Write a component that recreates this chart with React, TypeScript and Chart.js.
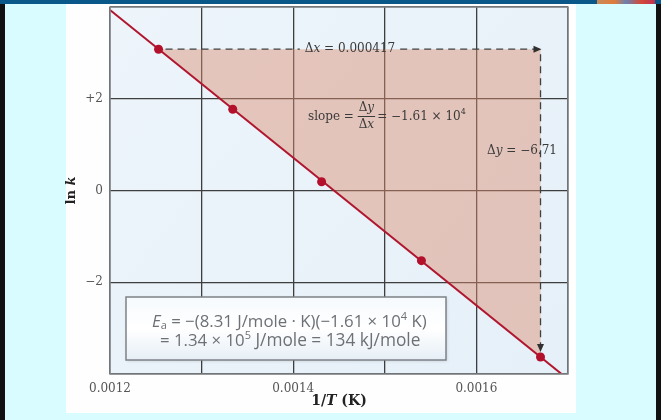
import { useEffect, useRef } from "react";
import { Chart, registerables } from "chart.js";

Chart.register(...registerables);

// ---- data ----
const invT = [0.001253, 0.001334, 0.001431, 0.00154, 0.00167];
const lnK = [3.08, 1.77, 0.19, -1.53, -3.63];
const xRange = [0.0012, 0.0017];
const yRange = [-4, 4];
const xTickValues = [0.0012, 0.0014, 0.0016];
const xTickLabels = ["0.0012", "0.0014", "0.0016"];
const yTickValues = [2, 0, -2];
const yTickLabels = ["+2", "0", "\u22122"];
const deltaXText = "0.000417";
const deltaYText = "\u22126.71";
const slopeText = "\u22121.61";

const SERIF = "'DejaVu Serif', 'Liberation Serif', serif";
const SANS = "'Open Sans', 'Noto Sans', sans-serif";

type Seg = { t: string; font: string; dy?: number };

function richWidth(ctx: CanvasRenderingContext2D, segs: Seg[]) {
  let w = 0;
  for (const s of segs) {
    ctx.font = s.font;
    w += ctx.measureText(s.t).width;
  }
  return w;
}

function drawRich(ctx: CanvasRenderingContext2D, x: number, y: number, segs: Seg[], align: "left" | "center" = "left") {
  let cx = x;
  if (align === "center") cx = x - richWidth(ctx, segs) / 2;
  ctx.textAlign = "left";
  ctx.textBaseline = "middle";
  for (const s of segs) {
    ctx.font = s.font;
    ctx.fillText(s.t, cx, y + (s.dy || 0));
    cx += ctx.measureText(s.t).width;
  }
  return cx;
}

function arrowHead(ctx: CanvasRenderingContext2D, tx: number, ty: number, dx: number, dy: number) {
  const L = 8, W = 3.5;
  const bx = tx - dx * L, by = ty - dy * L;
  const px = -dy, py = dx;
  ctx.beginPath();
  ctx.moveTo(tx, ty);
  ctx.lineTo(bx + px * W, by + py * W);
  ctx.lineTo(bx - px * W, by - py * W);
  ctx.closePath();
  ctx.fill();
}

const backgroundPlugin = {
  id: "bgPlugin",
  beforeDraw(chart: any) {
    const ctx: CanvasRenderingContext2D = chart.ctx;
    const W = chart.width, H = chart.height;
    ctx.save();
    ctx.fillStyle = "#d8fcff";
    ctx.fillRect(0, 0, W, H);
    ctx.fillStyle = "#111111";
    ctx.fillRect(0, 0, 5, H);
    ctx.fillRect(W - 5, 0, 5, H);
    ctx.fillStyle = "#0a578a";
    ctx.fillRect(0, 0, W, 4);
    const g = ctx.createLinearGradient(597, 0, 655, 0);
    g.addColorStop(0, "#c98a5a");
    g.addColorStop(0.3, "#e07a3a");
    g.addColorStop(0.5, "#6a7fb0");
    g.addColorStop(0.75, "#d24a3a");
    g.addColorStop(1, "#c03050");
    ctx.fillStyle = g;
    ctx.fillRect(597, 0, 58, 4);
    ctx.fillStyle = "#fefefe";
    ctx.fillRect(66, 4, 510, 409);
    const a = chart.chartArea;
    const pg = ctx.createLinearGradient(a.left, a.top, a.right, a.bottom);
    pg.addColorStop(0, "#edf5fb");
    pg.addColorStop(1, "#e6f0f8");
    ctx.fillStyle = pg;
    ctx.fillRect(a.left, a.top, a.right - a.left, a.bottom - a.top);
    ctx.restore();
  },
  afterDatasetsDraw(chart: any) {
    const ctx: CanvasRenderingContext2D = chart.ctx;
    const a = chart.chartArea;
    const xs = chart.scales.x, ys = chart.scales.y;
    ctx.save();
    ctx.strokeStyle = "#85898d";
    ctx.lineWidth = 1.5;
    ctx.strokeRect(a.left, a.top, a.right - a.left, a.bottom - a.top);

    const n = invT.length - 1;
    const px1 = xs.getPixelForValue(invT[0]);
    const py1 = ys.getPixelForValue(lnK[0]);
    const px5 = xs.getPixelForValue(invT[n]);
    const py5 = ys.getPixelForValue(lnK[n]);

    const textColor = "#3a3a3a";
    const f12 = `12px ${SERIF}`;
    const f12i = `italic 12px ${SERIF}`;

    const dxSegs: Seg[] = [
      { t: "\u0394", font: f12 },
      { t: "x", font: f12i },
      { t: " = " + deltaXText, font: f12 },
    ];
    const dxW = richWidth(ctx, dxSegs);
    const dxCenter = 350;
    const tl = dxCenter - dxW / 2 - 5, tr = dxCenter + dxW / 2 + 5;

    ctx.strokeStyle = "#404040";
    ctx.fillStyle = "#303030";
    ctx.lineWidth = 1.3;
    ctx.setLineDash([7, 5]);
    ctx.beginPath();
    ctx.moveTo(px1 + 7, py1);
    ctx.lineTo(tl, py1);
    ctx.moveTo(tr, py1);
    ctx.lineTo(px5 - 6, py1);
    ctx.moveTo(px5, py1 + 5);
    ctx.lineTo(px5, py5 - 12);
    ctx.stroke();
    ctx.setLineDash([]);
    arrowHead(ctx, px5 + 1, py1, 1, 0);
    arrowHead(ctx, px5, py5 - 5, 0, 1);

    ctx.fillStyle = textColor;
    drawRich(ctx, dxCenter, py1, dxSegs, "center");

    const sy = 117;
    let cx = drawRich(ctx, 308, sy, [{ t: "slope = ", font: f12 }]);
    const numSegs: Seg[] = [{ t: "\u0394", font: f12 }, { t: "y", font: f12i }];
    const denSegs: Seg[] = [{ t: "\u0394", font: f12 }, { t: "x", font: f12i }];
    const fw = Math.max(richWidth(ctx, numSegs), richWidth(ctx, denSegs)) + 2;
    const fcx = cx + fw / 2;
    drawRich(ctx, fcx, sy - 9, numSegs, "center");
    drawRich(ctx, fcx, sy + 8, denSegs, "center");
    ctx.strokeStyle = textColor;
    ctx.lineWidth = 1;
    ctx.beginPath();
    ctx.moveTo(cx, sy - 0.5);
    ctx.lineTo(cx + fw, sy - 0.5);
    ctx.stroke();
    cx += fw + 2;
    drawRich(ctx, cx, sy, [
      { t: "= " + slopeText + " \u00d7 10", font: f12 },
      { t: "4", font: `8px ${SERIF}`, dy: -5 },
    ]);

    drawRich(ctx, 487, 151, [
      { t: "\u0394", font: f12 },
      { t: "y", font: f12i },
      { t: " = " + deltaYText, font: f12 },
    ]);

    // Ea box
    const bx = 126, by = 297, bw = 320, bh = 63;
    ctx.shadowColor = "rgba(0,0,0,0.15)";
    ctx.shadowBlur = 3;
    ctx.shadowOffsetX = 1;
    ctx.shadowOffsetY = 1;
    const bg = ctx.createLinearGradient(bx, by, bx, by + bh);
    bg.addColorStop(0, "#f6fafd");
    bg.addColorStop(0.5, "#ffffff");
    bg.addColorStop(1, "#e6eff6");
    ctx.fillStyle = bg;
    ctx.fillRect(bx, by, bw, bh);
    ctx.shadowColor = "transparent";
    ctx.strokeStyle = "#7d8287";
    ctx.lineWidth = 1.5;
    ctx.strokeRect(bx, by, bw, bh);

    ctx.fillStyle = "#6d7175";
    const fs = 16.8;
    const fMain = `${fs}px ${SANS}`;
    const fSmall = `11px ${SANS}`;
    drawRich(ctx, 152, 322, [
      { t: "E", font: `italic ${fs}px ${SANS}` },
      { t: "a", font: fSmall, dy: 4 },
      { t: " = \u2212(8.31 J/mole \u00b7 K)(\u22121.61 \u00d7 10", font: fMain },
      { t: "4", font: fSmall, dy: -5 },
      { t: " K)", font: fMain },
    ]);
    drawRich(ctx, 160, 341, [
      { t: "= 1.34 \u00d7 10", font: fMain },
      { t: "5", font: fSmall, dy: -5 },
      { t: " J/mole = 134 kJ/mole", font: `17.3px ${SANS}` },
    ]);

    ctx.fillStyle = "#222222";
    drawRich(ctx, (a.left + a.right) / 2, 401, [
      { t: "1/", font: `bold 14px ${SERIF}` },
      { t: "T", font: `bold italic 14px ${SERIF}` },
      { t: " (K)", font: `bold 14px ${SERIF}` },
    ], "center");
    ctx.save();
    ctx.translate(72, (a.top + a.bottom) / 2);
    ctx.rotate(-Math.PI / 2);
    drawRich(ctx, 0, 0, [
      { t: "ln ", font: `bold 13px ${SERIF}` },
      { t: "k", font: `bold italic 13px ${SERIF}` },
    ], "center");
    ctx.restore();

    ctx.restore();
  },
};

export default function App() {
  const ref = useRef<HTMLCanvasElement | null>(null);
  useEffect(() => {
    if (!ref.current) return;
    const n = invT.length - 1;
    const slope = (lnK[n] - lnK[0]) / (invT[n] - invT[0]);
    const fitLine = xRange.map((x) => ({ x, y: lnK[0] + slope * (x - invT[0]) }));
    const points = invT.map((x, i) => ({ x, y: lnK[i] }));
    const triangle = [
      { x: invT[0], y: lnK[0] },
      { x: invT[n], y: lnK[0] },
      { x: invT[n], y: lnK[n] },
      { x: invT[0], y: lnK[0] },
    ];
    const chart = new Chart(ref.current, {
      type: "line",
      data: {
        datasets: [
          {
            data: points,
            showLine: false,
            pointRadius: 4.5,
            pointBackgroundColor: "#b3102c",
            pointBorderWidth: 0,
          },
          {
            data: fitLine,
            borderColor: "#b0162e",
            borderWidth: 2,
            pointRadius: 0,
            fill: false,
          },
          {
            data: triangle,
            borderWidth: 0,
            pointRadius: 0,
            backgroundColor: "rgba(220,140,110,0.45)",
            fill: "shape",
          } as any,
        ],
      },
      options: {
        responsive: false,
        animation: false,
        devicePixelRatio: 1,
        layout: { padding: { left: 0, top: 7, right: 93, bottom: 0 } },
        plugins: { legend: { display: false }, tooltip: { enabled: false } },
        scales: {
          x: {
            type: "linear",
            min: xRange[0],
            max: xRange[1],
            afterFit: (s: any) => {
              s.height = 46;
              s.paddingLeft = 0;
              s.paddingRight = 0;
            },
            ticks: {
              stepSize: 0.0001,
              autoSkip: false,
              maxRotation: 0,
              padding: 8,
              color: "#555555",
              font: { family: SERIF, size: 12 },
              callback: (v: any) => {
                const i = xTickValues.findIndex((t) => Math.abs(t - Number(v)) < 1e-9);
                return i >= 0 ? xTickLabels[i] : "";
              },
            },
            grid: { color: "#3e3e3e", lineWidth: 1.3, drawTicks: false },
            border: { display: false },
          },
          y: {
            type: "linear",
            min: yRange[0],
            max: yRange[1],
            afterFit: (s: any) => {
              s.width = 110;
              s.paddingTop = 0;
              s.paddingBottom = 0;
            },
            ticks: {
              stepSize: 2,
              padding: 7,
              color: "#555555",
              font: { family: SERIF, size: 12 },
              callback: (v: any) => {
                const i = yTickValues.findIndex((t) => Math.abs(t - Number(v)) < 1e-9);
                return i >= 0 ? yTickLabels[i] : "";
              },
            },
            grid: { color: "#3e3e3e", lineWidth: 1.3, drawTicks: false },
            border: { display: false },
          },
        },
      } as any,
      plugins: [backgroundPlugin],
    });
    return () => chart.destroy();
  }, []);
  return (
    <div style={{ position: "absolute", left: 0, top: 0, width: 661, height: 420 }}>
      <canvas ref={ref} width={661} height={420} style={{ display: "block", width: 661, height: 420 }} />
    </div>
  );
}
